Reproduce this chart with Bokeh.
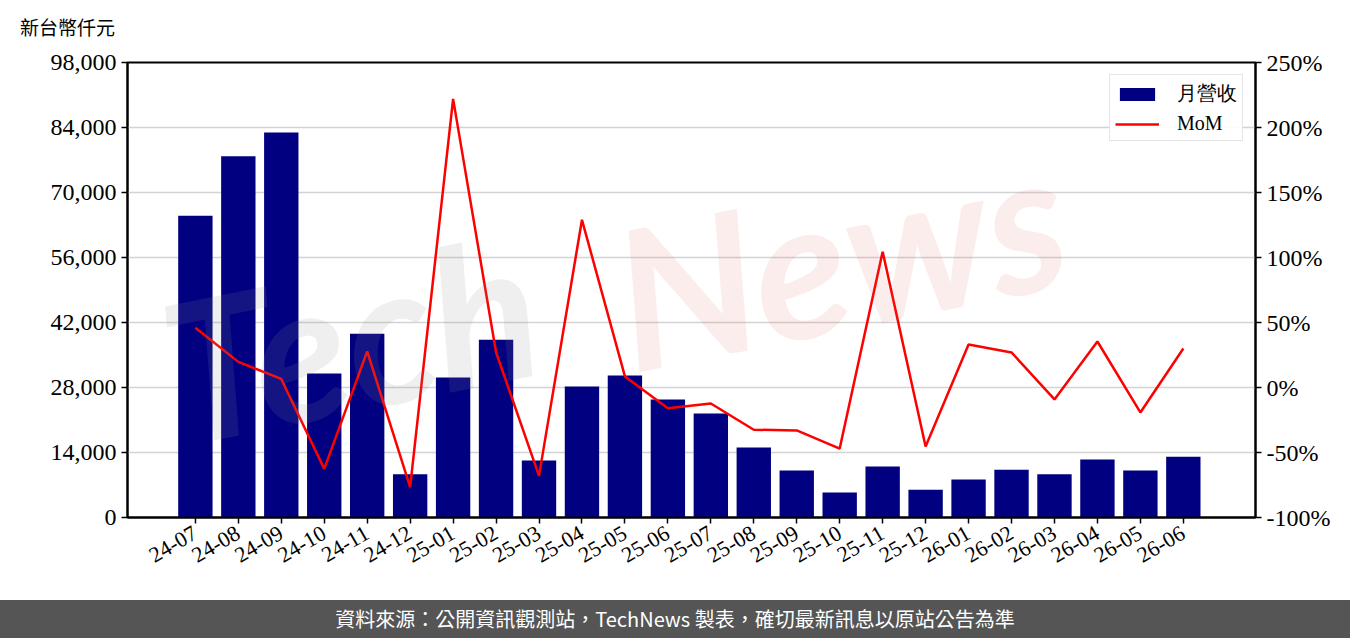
import math
from bokeh.plotting import figure
from bokeh.models import (Range1d, LinearAxis, FixedTicker, NumeralTickFormatter,
                          PrintfTickFormatter, Legend, Div)
from bokeh.layouts import column
from bokeh.core.properties import value
from bokeh.embed import file_html
from bokeh.resources import INLINE

# ---------------- data ----------------
months = ["24-07", "24-08", "24-09", "24-10", "24-11", "24-12",
          "25-01", "25-02", "25-03", "25-04", "25-05", "25-06",
          "25-07", "25-08", "25-09", "25-10", "25-11", "25-12",
          "26-01", "26-02", "26-03", "26-04", "26-05", "26-06"]
revenue = [65000, 77800, 82900, 31000, 39600, 9300,
           30150, 38300, 12300, 28200, 30600, 25400,
           22400, 15100, 10100, 5400, 11000, 6000,
           8200, 10300, 9300, 12500, 10100, 13100]
mom = [46, 19.7, 6.6, -62.6, 27.8, -76.6,
       222, 27.1, -68, 129, 8.5, -16,
       -12.3, -32.5, -33, -47, 104.5, -45.4,
       33, 27, -9.2, 35.4, -19.2, 30]
left_ticks = [0, 14000, 28000, 42000, 56000, 70000, 84000, 98000]
right_ticks = [-100, -50, 0, 50, 100, 150, 200, 250]
unit_label = "新台幣仟元"
footer_text = "資料來源：公開資訊觀測站，TechNews 製表，確切最新訊息以原站公告為準"

idx = list(range(len(months)))
SERIF = "Liberation Serif"
CJK = "Noto Sans CJK TC"

HEADER_H = 44
p = figure(width=1350, height=600 - HEADER_H, output_backend="svg", toolbar_location=None,
           x_range=Range1d(-1.58, 24.68), y_range=Range1d(0, 98000),
           min_border_left=127, min_border_right=95, min_border_top=62 - HEADER_H,
           min_border_bottom=83)
p.extra_y_ranges = {"pct": Range1d(-100, 250)}

p.outline_line_color = "black"
p.outline_line_width = 2
p.outline_line_alpha = 1
p.background_fill_color = "white"
p.border_fill_color = "white"

bars = p.vbar(x=idx, top=revenue, width=0.8, fill_color="#000080", line_color=None)
line = p.line(x=idx, y=mom, y_range_name="pct", line_color="red", line_width=2.5)

# watermark
p.text(x=[3.6], y=[39000], text=["Tech"], angle=0.2, text_align="center",
       text_baseline="middle", text_font=value("Lato"), text_font_style="bold italic",
       text_font_size="195px", text_color="#909090", text_alpha=0.14)
p.text(x=[15.0], y=[56500], text=["News"], angle=0.2, text_align="center",
       text_baseline="middle", text_font=value("Lato"), text_font_style="bold italic",
       text_font_size="195px", text_color="#e05050", text_alpha=0.10)

# axes
ax = p.xaxis[0]
ax.ticker = FixedTicker(ticks=idx)
ax.major_label_overrides = {i: m for i, m in enumerate(months)}
ax.major_label_orientation = math.pi / 6
ax.major_label_text_font = SERIF
ax.major_label_text_font_size = "22px"
ax.major_label_text_color = "black"
ax.major_label_standoff = 8
ax.axis_line_width = 2
ax.major_tick_in = 0
ax.major_tick_out = 6
ax.major_tick_line_width = 1.5
ax.minor_tick_line_color = None

ay = p.yaxis[0]
ay.ticker = FixedTicker(ticks=left_ticks)
ay.formatter = NumeralTickFormatter(format="0,0")
ay.major_label_text_font = SERIF
ay.major_label_text_font_size = "24px"
ay.major_label_text_color = "black"
ay.axis_line_width = 2
ay.major_tick_in = 0
ay.major_tick_out = 6
ay.major_tick_line_width = 1.5
ay.minor_tick_line_color = None

ar = LinearAxis(y_range_name="pct", ticker=FixedTicker(ticks=right_ticks),
                formatter=PrintfTickFormatter(format="%d%%"))
ar.major_label_text_font = SERIF
ar.major_label_text_font_size = "24px"
ar.major_label_text_color = "black"
ar.axis_line_width = 2
ar.major_tick_in = 0
ar.major_tick_out = 6
ar.major_tick_line_width = 1.5
ar.minor_tick_line_color = None
p.add_layout(ar, "right")

p.xgrid.grid_line_color = None
p.ygrid.ticker = FixedTicker(ticks=left_ticks)
p.ygrid.grid_line_color = "#d3d3d3"
p.ygrid.grid_line_width = 1.5

# legend
legend = Legend(items=[("月營收", [bars]), ("MoM", [line])], location="top_right")
legend.label_text_font = SERIF
legend.label_text_font_size = "20px"
legend.label_text_color = "black"
legend.glyph_width = 44
legend.glyph_height = 16
legend.label_height = 20
legend.spacing = 5
legend.padding = 5
legend.margin = 12
legend.label_standoff = 18
legend.border_line_color = "#cccccc"
legend.border_line_width = 1.5
legend.background_fill_alpha = 0.9
p.add_layout(legend, "center")

# header with unit label
header = Div(text=unit_label, width=1350, height=HEADER_H,
             styles={"background-color": "white", "color": "black",
                     "font-size": "19px", "line-height": "20px",
                     "font-family": CJK, "padding-top": "17px",
                     "padding-left": "20px", "box-sizing": "border-box",
                     "width": "1350px", "height": f"{HEADER_H}px", "margin": "0"})

# footer
footer = Div(text=footer_text, width=1350, height=38,
             styles={"background-color": "#555555", "color": "white",
                     "text-align": "center", "font-size": "20px",
                     "line-height": "38px", "font-family": CJK,
                     "width": "1350px", "height": "38px", "margin": "0",
                     "padding": "0"})

layout = column(header, p, footer, spacing=0)
open("out.html", "w").write(file_html(layout, INLINE))
